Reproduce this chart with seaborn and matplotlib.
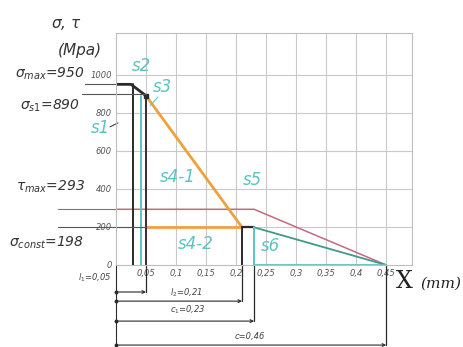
import numpy as np
import matplotlib
matplotlib.use("Agg")
import matplotlib.pyplot as plt
import seaborn as sns

# ---- data (x in mm, stress in MPa) ----
top_x = [0.0, 0.025, 0.05]            # black top plateau
top_y = [950, 950, 890]
s41_x = [0.05, 0.21]                   # orange slope s4-1
s41_y = [890, 198]
s42_x = [0.05, 0.21]                   # orange flat s4-2
s42_y = [198, 198]
step_x = [0.21, 0.23]                  # short black step
step_y = [198, 198]
s6_x = [0.23, 0.45]                    # teal decay s6
s6_y = [198, 0]
tau_x = [0.0, 0.23, 0.45]              # tau line (pink)
tau_y = [293, 293, 0]

# vertical boundaries: (x, top value, colour)
vert_x = [0.028, 0.042, 0.05, 0.21, 0.23]
vert_top = [950, 890, 890, 198, 198]
vert_col = ['#2a2a2a', '#5cc3c0', '#3a2a30', '#2a2a2a', '#5cc3c0']

y_ticks = [0, 200, 400, 600, 800, 1000]
x_ticks = [0.05, 0.1, 0.15, 0.2, 0.25, 0.3, 0.35, 0.4, 0.45]
x_tick_labels = ['0,05', '0,1', '0,15', '0,2', '0,25', '0,3', '0,35', '0,4', '0,45']

# dimension lines below the axis
dim_len = [0.05, 0.21, 0.23, 0.45]
dim_depth = [-142, -190, -295, -421]

sns.set_theme(style="white")
plt.rcParams['font.family'] = ['DejaVu Sans']
plt.rcParams['mathtext.fontset'] = 'dejavusans'

W, H = 464, 347
fig = plt.figure(figsize=(W / 100, H / 100), dpi=100)
ax = fig.add_axes([116 / W, 1 - 265 / H, (412 - 116) / W, (265 - 33) / H])
ax.set_xlim(0, 0.493)
ax.set_ylim(0, 1220)

# grid
for gx in np.arange(0.05, 0.50, 0.05):
    ax.axvline(gx, color='#c9c9c9', lw=0.8, zorder=0)
for gy in y_ticks[1:]:
    ax.axhline(gy, color='#c9c9c9', lw=0.8, zorder=0)
for sp in ax.spines.values():
    sp.set_color('#bdbdbd')
    sp.set_linewidth(0.8)

ink = '#2a2a2a'
teal = '#5cc3c0'
orange = '#f0a03c'
pink = '#c46a7c'

# curves
sns.lineplot(x=tau_x, y=tau_y, sort=False, color=pink, lw=1.1, ax=ax)
sns.lineplot(x=top_x, y=top_y, sort=False, color=ink, lw=2.0, ax=ax)
sns.lineplot(x=s41_x, y=s41_y, sort=False, color=orange, lw=2.0, ax=ax)
sns.lineplot(x=s42_x, y=s42_y, sort=False, color=orange, lw=2.0, ax=ax)
sns.lineplot(x=step_x, y=step_y, sort=False, color=ink, lw=1.6, ax=ax)
sns.lineplot(x=s6_x, y=s6_y, sort=False, color='#3f9a8a', lw=1.3, ax=ax)
ax.plot([s6_x[0], s6_x[-1]], [0, 0], color=teal, lw=1.3)
for vx, vt, vc in zip(vert_x, vert_top, vert_col):
    ax.plot([vx, vx], [0, vt], color=vc, lw=1.4)
ax.plot(s41_x[0], s41_y[0], 's', color=ink, ms=2.5)

# vertical extension lines and dimension arrows below the axis
for L, d in zip(dim_len, dim_depth):
    ax.plot([L, L], [0, d], color=ink, lw=0.9, clip_on=False)
    ax.annotate('', xy=(L, d), xytext=(0, d), annotation_clip=False,
                arrowprops=dict(arrowstyle='->', color=ink, lw=0.8,
                                shrinkA=0, shrinkB=0, mutation_scale=5))
    ax.plot(0, d, 'o', color=ink, ms=1.8, clip_on=False)
ax.plot([0, 0], [0, -440], color=ink, lw=0.8, clip_on=False)

# ticks
ax.set_xticks(x_ticks)
ax.set_xticklabels(x_tick_labels, fontsize=6, style='italic', color='#555555')
ax.set_yticks(y_ticks)
ax.set_yticklabels([str(v) for v in y_ticks], fontsize=6, style='italic', color='#555555')
ax.tick_params(length=0, pad=3)

# reference lines from the left labels
def fx(px):
    return (px - 116) / 600
ax.plot([fx(85), 0.0], [952, 952], color='#555555', lw=0.8, clip_on=False)
ax.plot([fx(82), 0.05], [900, 900], color='#555555', lw=0.8, clip_on=False)
ax.plot([fx(58), 0.0], [293, 293], color='#777777', lw=0.8, clip_on=False)
ax.plot([fx(58), 0.05], [198, 198], color='#555555', lw=0.8, clip_on=False)

def ftext(px, py, s, **kw):
    fig.text(px / W, 1 - py / H, s, ha='center', va='center', **kw)

lab = dict(color='#333333', style='italic', fontsize=10)
ftext(66, 24, r'$\sigma$, $\tau$', color='#333333', style='italic', fontsize=11)
ftext(80, 51, '(Mpa)', color='#333333', style='italic', fontsize=11)
ftext(50, 74, r'$\sigma_{max}$=950', **lab)
ftext(50, 106, r'$\sigma_{s1}$=890', **lab)
ftext(51, 187, r'$\tau_{max}$=293', **lab)
ftext(46, 243, r'$\sigma_{const}$=198', **lab)
ftext(404, 281, 'X', color='#222222', fontsize=17, family='DejaVu Serif')
ftext(441, 284, '(mm)', color='#222222', fontsize=11, style='italic',
      family='DejaVu Serif')

small = dict(color='#444444', style='italic', fontsize=6)
ftext(95, 278, r'$l_1$=0,05', **small)
ftext(186, 293, r'$l_2$=0,21', **small)
ftext(188, 310, r'$c_1$=0,23', **small)
ftext(250, 336, 'c=0,46', **small)

sl = dict(color=teal, style='italic', fontsize=12)
ftext(100, 128, 's1', **sl)
ftext(141, 66, 's2', **sl)
ftext(162, 87, 's3', **sl)
ftext(178, 177, 's4-1', **sl)
ftext(196, 244, 's4-2', **sl)
ftext(252, 180, 's5', **sl)
ftext(270, 246, 's6', **sl)
ax.plot([fx(110), fx(118)], [(265 - 127) / 0.19, (265 - 123) / 0.19],
        color=ink, lw=0.7, clip_on=False)
ax.plot([fx(150), fx(158)], [(265 - 106) / 0.19, (265 - 97) / 0.19],
        color=teal, lw=0.7, clip_on=False)

fig.savefig('out.png', dpi=100)
